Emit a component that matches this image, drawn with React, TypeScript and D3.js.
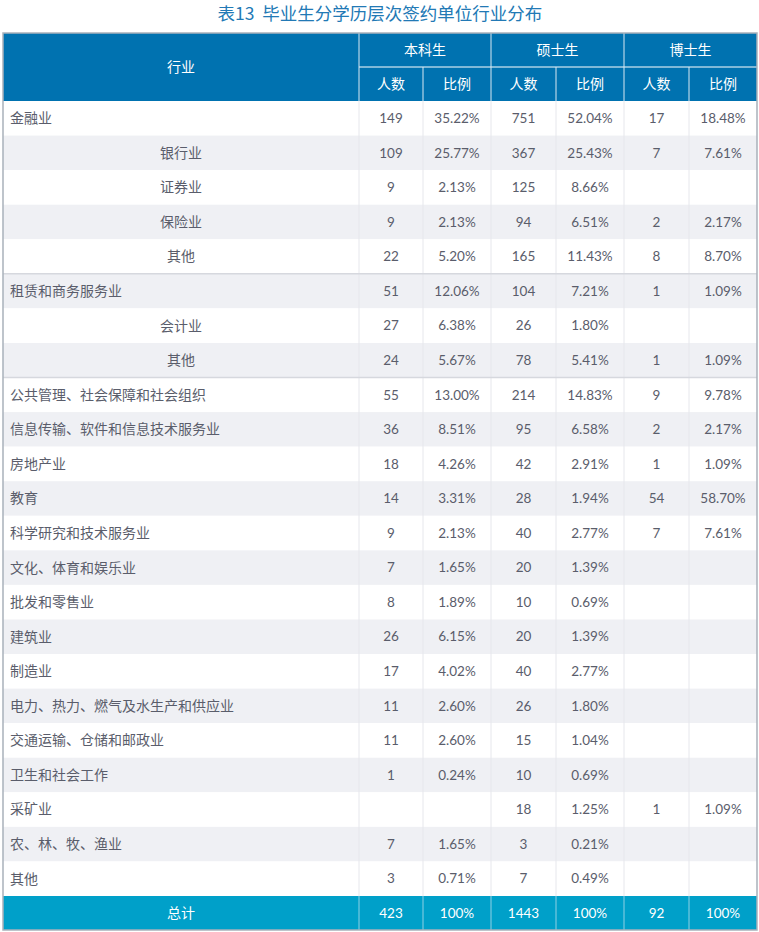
import { useEffect, useRef } from 'react'
import * as d3 from 'd3'

const title = '表13  毕业生分学历层次签约单位行业分布'
const degrees = ['本科生', '硕士生', '博士生']
const subHeads = ['人数', '比例']

const industries = [
  '金融业', '银行业', '证券业', '保险业', '其他',
  '租赁和商务服务业', '会计业', '其他',
  '公共管理、社会保障和社会组织', '信息传输、软件和信息技术服务业', '房地产业', '教育',
  '科学研究和技术服务业', '文化、体育和娱乐业', '批发和零售业', '建筑业', '制造业',
  '电力、热力、燃气及水生产和供应业', '交通运输、仓储和邮政业', '卫生和社会工作',
  '采矿业', '农、林、牧、渔业', '其他'
]
// 1 = sub item of the group above
const isSub = [0, 1, 1, 1, 1, 0, 1, 1, 0, 0, 0, 0, 0, 0, 0, 0, 0, 0, 0, 0, 0, 0, 0]
// index of rows after which a group ends
const groupEnds = [4, 7]

const bkCount = [149, 109, 9, 9, 22, 51, 27, 24, 55, 36, 18, 14, 9, 7, 8, 26, 17, 11, 11, 1, null, 7, 3]
const bkPct = [35.22, 25.77, 2.13, 2.13, 5.20, 12.06, 6.38, 5.67, 13.00, 8.51, 4.26, 3.31, 2.13, 1.65, 1.89, 6.15, 4.02, 2.60, 2.60, 0.24, null, 1.65, 0.71]
const ssCount = [751, 367, 125, 94, 165, 104, 26, 78, 214, 95, 42, 28, 40, 20, 10, 20, 40, 26, 15, 10, 18, 3, 7]
const ssPct = [52.04, 25.43, 8.66, 6.51, 11.43, 7.21, 1.80, 5.41, 14.83, 6.58, 2.91, 1.94, 2.77, 1.39, 0.69, 1.39, 2.77, 1.80, 1.04, 0.69, 1.25, 0.21, 0.49]
const bsCount = [17, 7, null, 2, 8, 1, null, 1, 9, 2, 1, 54, 7, null, null, null, null, null, null, null, 1, null, null]
const bsPct = [18.48, 7.61, null, 2.17, 8.70, 1.09, null, 1.09, 9.78, 2.17, 1.09, 58.70, 7.61, null, null, null, null, null, null, null, 1.09, null, null]

const totalLabel = '总计'
const totals = ['423', '100%', '1443', '100%', '92', '100%']

export default function App() {
  const ref = useRef<SVGSVGElement>(null)

  useEffect(() => {
    document.body.style.margin = '0'
    const width = 759
    const height = 932
    const svg = d3.select(ref.current)
    svg.selectAll('*').remove()
    svg.attr('width', width).attr('height', height)

    const font = '"Noto Sans CJK SC", "Noto Sans", sans-serif'
    const numFont = 'Lato, "Noto Sans CJK SC", sans-serif'
    const textColor = '#5a5d6b'
    const headBlue = '#0072b0'
    const totalBlue = '#00a0c9'

    // column edges
    const edges = [3, 359, 423, 491, 556, 624, 689, 757]
    const headTop = 33
    const headMid = 67
    const bodyTop = 101
    const bodyBottom = 896
    const totalBottom = 930

    const y = d3.scaleBand<number>()
      .domain(d3.range(industries.length))
      .range([bodyTop, bodyBottom])

    const fmt = d3.format('.2f')
    const cols = [bkCount, bkPct, ssCount, ssPct, bsCount, bsPct]

    // title
    svg.append('text')
      .attr('x', 380).attr('y', 20)
      .attr('text-anchor', 'middle')
      .style('white-space', 'pre')
      .style('font-family', font)
      .style('font-size', '17.5px')
      .style('fill', '#2279b5')
      .text(title)

    // header background
    svg.append('rect')
      .attr('x', edges[0]).attr('y', headTop)
      .attr('width', edges[7] - edges[0]).attr('height', bodyTop - headTop)
      .attr('fill', headBlue)

    // body rows
    const rows = svg.append('g')
    industries.forEach((name, i) => {
      const yy = y(i)!
      rows.append('rect')
        .attr('x', edges[0]).attr('y', yy)
        .attr('width', edges[7] - edges[0]).attr('height', y.bandwidth())
        .attr('fill', i % 2 === 0 ? '#ffffff' : '#eff0f4')
      const cy = yy + y.bandwidth() / 2
      rows.append('text')
        .attr('x', isSub[i] ? (edges[0] + edges[1]) / 2 : 10)
        .attr('y', cy)
        .attr('dy', '0.35em')
        .attr('text-anchor', isSub[i] ? 'middle' : 'start')
        .style('font-family', font)
        .style('font-size', '14px')
        .style('fill', textColor)
        .text(name)
      cols.forEach((col, c) => {
        const v = col[i]
        if (v == null) return
        rows.append('text')
          .attr('x', (edges[c + 1] + edges[c + 2]) / 2)
          .attr('y', cy)
          .attr('dy', '0.35em')
          .attr('text-anchor', 'middle')
          .style('font-family', numFont)
          .style('font-size', '13.5px')
          .style('fill', textColor)
          .text(c % 2 === 1 ? fmt(v) + '%' : String(v))
      })
    })

    // body vertical lines
    edges.slice(1, 7).forEach(x => {
      svg.append('line')
        .attr('x1', x).attr('x2', x)
        .attr('y1', bodyTop).attr('y2', bodyBottom)
        .attr('stroke', '#e6e7ec').attr('stroke-width', 1)
    })

    // group separators
    groupEnds.forEach(i => {
      const yy = y(i)! + y.bandwidth()
      svg.append('line')
        .attr('x1', edges[0]).attr('x2', edges[7])
        .attr('y1', yy).attr('y2', yy)
        .attr('stroke', '#d6d8de').attr('stroke-width', 1.5)
    })

    // header lines
    svg.append('line')
      .attr('x1', edges[1]).attr('x2', edges[7])
      .attr('y1', headMid).attr('y2', headMid)
      .attr('stroke', '#ffffff').attr('stroke-width', 1)
    edges.slice(1, 7).forEach((x, k) => {
      svg.append('line')
        .attr('x1', x).attr('x2', x)
        .attr('y1', k % 2 === 0 ? headTop : headMid).attr('y2', bodyTop)
        .attr('stroke', '#d9e8f2').attr('stroke-width', 1)
    })

    const headText = (x: number, yy: number, t: string) =>
      svg.append('text')
        .attr('x', x).attr('y', yy)
        .attr('dy', '0.35em')
        .attr('text-anchor', 'middle')
        .style('font-family', font)
        .style('font-size', '14px')
        .style('fill', '#ffffff')
        .text(t)

    headText((edges[0] + edges[1]) / 2, (headTop + bodyTop) / 2, '行业')
    degrees.forEach((d, k) => {
      headText((edges[1 + 2 * k] + edges[3 + 2 * k]) / 2, (headTop + headMid) / 2, d)
      subHeads.forEach((s, j) => {
        const c = 1 + 2 * k + j
        headText((edges[c] + edges[c + 1]) / 2, (headMid + bodyTop) / 2, s)
      })
    })

    // total row
    svg.append('rect')
      .attr('x', edges[0]).attr('y', bodyBottom)
      .attr('width', edges[7] - edges[0]).attr('height', totalBottom - bodyBottom)
      .attr('fill', totalBlue)
    edges.slice(1, 7).forEach(x => {
      svg.append('line')
        .attr('x1', x).attr('x2', x)
        .attr('y1', bodyBottom).attr('y2', totalBottom)
        .attr('stroke', '#8fd0e4').attr('stroke-width', 1)
    })
    const ty = (bodyBottom + totalBottom) / 2
    headText((edges[0] + edges[1]) / 2, ty, totalLabel)
    totals.forEach((t, c) => {
      svg.append('text')
        .attr('x', (edges[c + 1] + edges[c + 2]) / 2)
        .attr('y', ty)
        .attr('dy', '0.35em')
        .attr('text-anchor', 'middle')
        .style('font-family', numFont)
        .style('font-size', '13.5px')
        .style('fill', '#ffffff')
        .text(t)
    })

    // outer border
    svg.append('rect')
      .attr('x', edges[0]).attr('y', headTop)
      .attr('width', edges[7] - edges[0]).attr('height', totalBottom - headTop)
      .attr('fill', 'none')
      .attr('stroke', '#a9b1ba').attr('stroke-width', 1.5)
  }, [])

  return <svg ref={ref} style={{ display: 'block' }} />
}
